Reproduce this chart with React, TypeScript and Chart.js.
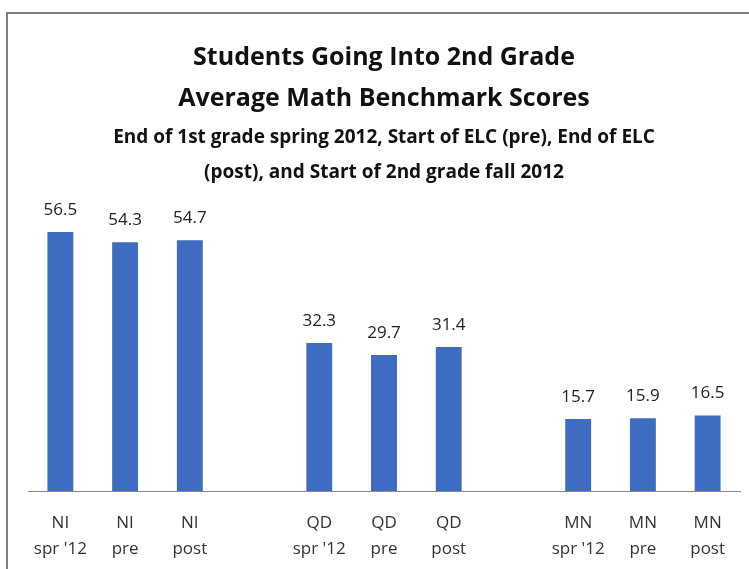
import React, { useEffect, useRef } from "react";
import { Chart, registerables } from "chart.js";

Chart.register(...registerables);

const titleLines = ["Students Going Into 2nd Grade", "Average Math Benchmark Scores"];
const subtitleLines = [
  "End of 1st grade spring 2012, Start of ELC (pre), End of ELC",
  "(post), and Start of 2nd grade fall 2012",
];

const tickLabels: (string | string[])[] = [
  ["NI", "spr '12"], ["NI", "pre"], ["NI", "post"],
  "",
  ["QD", "spr '12"], ["QD", "pre"], ["QD", "post"],
  "",
  ["MN", "spr '12"], ["MN", "pre"], ["MN", "post"],
];

const scores: (number | null)[] = [
  56.5, 54.3, 54.7,
  null,
  32.3, 29.7, 31.4,
  null,
  15.7, 15.9, 16.5,
];

const FONT = "'Open Sans', 'Liberation Sans', sans-serif";

const framePlugin = {
  id: "frame",
  beforeDraw(chart: any) {
    const ctx = chart.ctx;
    ctx.save();
    ctx.fillStyle = "#ffffff";
    ctx.fillRect(0, 0, chart.width, chart.height);
    ctx.strokeStyle = "#808080";
    ctx.lineWidth = 2;
    ctx.strokeRect(7, 13, chart.width + 20, chart.height + 20);
    ctx.restore();
  },
};

const valueLabelPlugin = {
  id: "valueLabels",
  afterDatasetsDraw(chart: any) {
    const ctx = chart.ctx;
    const meta = chart.getDatasetMeta(0);
    const data = chart.data.datasets[0].data;
    ctx.save();
    ctx.font = `17px ${FONT}`;
    ctx.fillStyle = "#222222";
    ctx.textAlign = "center";
    ctx.textBaseline = "middle";
    meta.data.forEach((bar: any, i: number) => {
      const v = data[i];
      if (v === null || v === undefined) return;
      ctx.fillText(Number(v).toFixed(1), bar.x, bar.y - 22);
    });
    ctx.restore();
  },
};

export default function App() {
  const canvasRef = useRef<HTMLCanvasElement | null>(null);

  useEffect(() => {
    if (!canvasRef.current) return;
    const chart = new Chart(canvasRef.current, {
      type: "bar",
      data: {
        labels: tickLabels,
        datasets: [
          {
            data: scores,
            backgroundColor: "#3d6cc0",
            borderWidth: 0,
            categoryPercentage: 1,
            barPercentage: 0.4,
          },
        ],
      },
      options: {
        responsive: false,
        animation: false,
        layout: { padding: { left: 28, right: 9, top: 0, bottom: 0 } },
        plugins: {
          legend: { display: false },
          tooltip: { enabled: false },
          title: {
            display: true,
            text: titleLines,
            color: "#111111",
            font: { family: FONT, size: 25, weight: "bold", lineHeight: "41px" },
            padding: { top: 37, bottom: 0 },
          },
          subtitle: {
            display: true,
            text: subtitleLines,
            color: "#111111",
            font: { family: FONT, size: 19, weight: "bold", lineHeight: "35px" },
            padding: { top: 1, bottom: 26 },
          },
        },
        scales: {
          y: { display: false, min: 0, max: 60 },
          x: {
            grid: { display: false, drawTicks: false },
            border: { display: true, color: "#8a8a8a", width: 1 },
            ticks: {
              color: "#333333",
              padding: 19,
              maxRotation: 0,
              autoSkip: false,
              font: { family: FONT, size: 17, lineHeight: "26px" },
            },
            afterFit(scale: any) {
              scale.height = 78;
            },
          },
        },
      },
      plugins: [framePlugin, valueLabelPlugin],
    });
    return () => chart.destroy();
  }, []);

  return (
    <div style={{ position: "fixed", left: 0, top: 0, width: 749, height: 569 }}>
      <canvas ref={canvasRef} width={749} height={569} style={{ display: "block" }} />
    </div>
  );
}
